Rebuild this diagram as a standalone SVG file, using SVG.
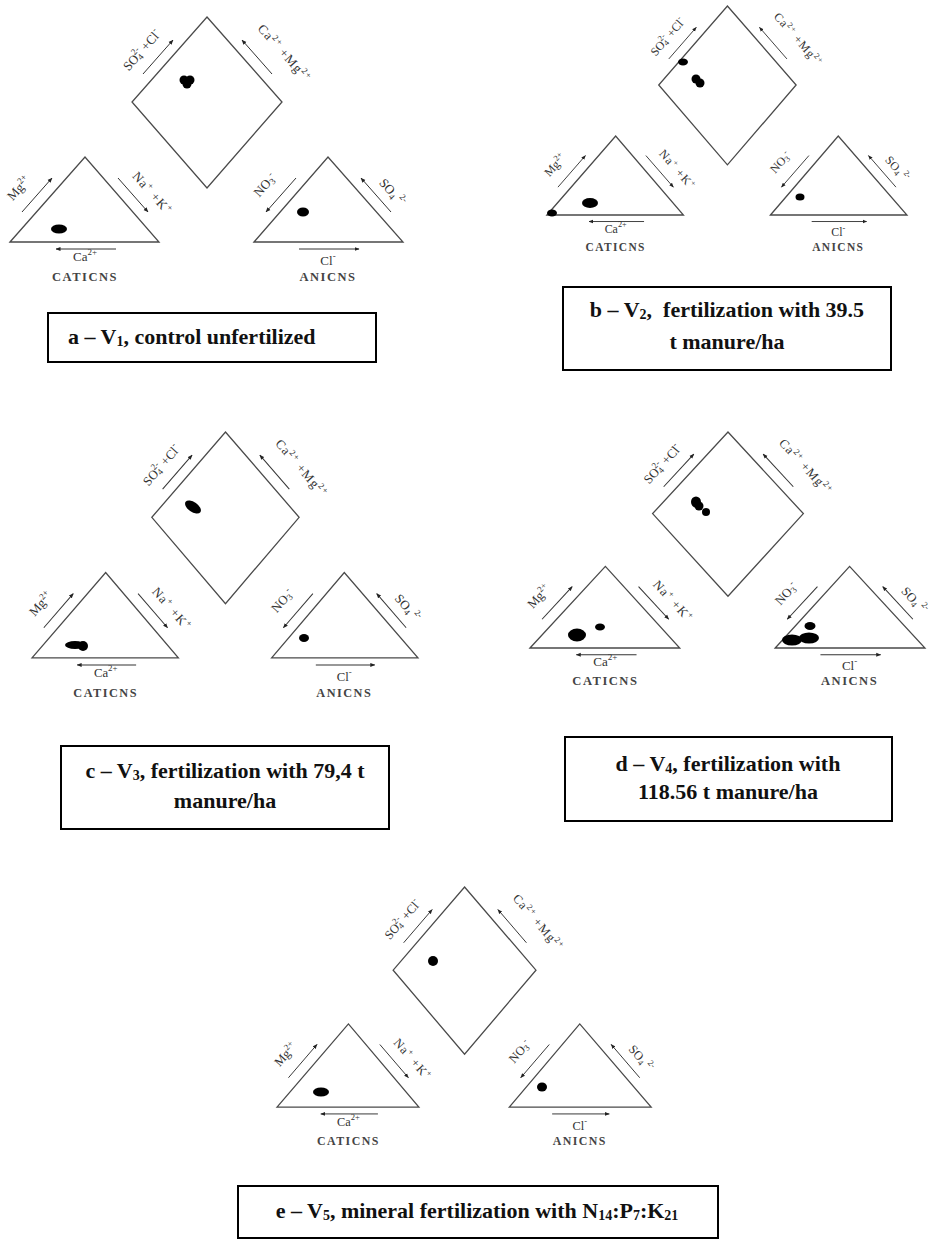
<svg xmlns="http://www.w3.org/2000/svg" width="931" height="1242" viewBox="0 0 931 1242">
<style>
.ln{fill:none;stroke:#4a4a4a;stroke-width:1.3;vector-effect:non-scaling-stroke}
.ar{stroke:#333;stroke-width:1;marker-end:url(#ah)}
.lb{font-family:"Liberation Serif",serif;font-size:13px;fill:#333}
.s{font-size:9px}
.nm{font-family:"Liberation Serif",serif;font-size:12.5px;font-weight:bold;fill:#444;letter-spacing:1.5px;text-anchor:middle}
.dot{fill:#000}
.box{fill:#fff;stroke:#000;stroke-width:2}
.cap{font-family:"Liberation Serif",serif;font-size:22px;font-weight:bold;fill:#111}
.sb{font-size:14px}
</style>
<defs>
<marker id="ah" viewBox="0 0 10 10" refX="9" refY="5" markerWidth="5" markerHeight="5" orient="auto">
<path d="M0,1 L10,5 L0,9 z" fill="#222"/>
</marker>
</defs>

<g id="panel-a">
<g id="panel-a-frame">
<polygon class="ln" points="207,17 282,102 207,188 132,102"/>
<polygon class="ln" points="10,242 85,157 159,242"/>
<polygon class="ln" points="254,242 328,157 403,242"/>
<line class="ar" x1="143" y1="74" x2="173" y2="40"/>
<line class="ar" x1="272" y1="74" x2="242" y2="40"/>
<line class="ar" x1="22" y1="212" x2="52" y2="178"/>
<line class="ar" x1="118" y1="178" x2="148" y2="212"/>
<line class="ar" x1="116" y1="249" x2="56" y2="249"/>
<line class="ar" x1="296" y1="178" x2="266" y2="212"/>
<line class="ar" x1="391" y1="212" x2="361" y2="178"/>
<line class="ar" x1="299" y1="249" x2="359" y2="249"/>
<text class="lb" text-anchor="middle" transform="translate(145,53) rotate(-48.6)">SO<tspan class="s" dy="2">4</tspan><tspan class="s" dx="-5" dy="-8">2-</tspan><tspan dy="6"> +Cl</tspan><tspan class="s" dy="-6">-</tspan></text>
<text class="lb" text-anchor="middle" letter-spacing="1" transform="translate(281,56) rotate(48.6)">Ca<tspan class="s" dy="-5">2+</tspan><tspan dy="5"> +Mg</tspan><tspan class="s" dy="-5">2+</tspan></text>
<text class="lb" text-anchor="middle" transform="translate(22,191) rotate(-48.6)">Mg<tspan class="s" dy="-5">2+</tspan></text>
<text class="lb" text-anchor="middle" letter-spacing="1" transform="translate(149,196) rotate(48.6)">Na<tspan class="s" dy="-5">+</tspan><tspan dy="5"> +K</tspan><tspan class="s" dy="-5">+</tspan></text>
<text class="lb" text-anchor="middle" transform="translate(268,188) rotate(-48.6)">NO<tspan class="s" dy="2">3</tspan><tspan class="s" dy="-7">-</tspan></text>
<text class="lb" text-anchor="middle" transform="translate(389,195) rotate(48.6)">SO<tspan class="s" dy="2">4</tspan><tspan class="s" dx="3" dy="-8">2-</tspan></text>
<text class="lb" text-anchor="middle" x="85" y="261">Ca<tspan class="s" dy="-6">2+</tspan></text>
<text class="nm" x="85" y="281">CATICNS</text>
<text class="lb" text-anchor="middle" x="328" y="265">Cl<tspan class="s" dy="-6">-</tspan></text>
<text class="nm" x="328" y="281">ANICNS</text>
</g>
<circle class="dot" cx="184" cy="80" r="4.5"/><circle class="dot" cx="190" cy="80" r="4.5"/><circle class="dot" cx="187" cy="84" r="4.5"/>
<ellipse class="dot" cx="59" cy="229" rx="8" ry="4.5"/>
<ellipse class="dot" cx="303" cy="212" rx="6" ry="4.5"/>
</g>

<g id="panel-b">
<g id="panel-b-frame" transform="translate(537.8,-9.8) scale(0.916,0.929)">
<polygon class="ln" points="207,17 282,102 207,188 132,102"/>
<polygon class="ln" points="10,242 85,157 159,242"/>
<polygon class="ln" points="254,242 328,157 403,242"/>
<line class="ar" x1="143" y1="74" x2="173" y2="40"/>
<line class="ar" x1="272" y1="74" x2="242" y2="40"/>
<line class="ar" x1="22" y1="212" x2="52" y2="178"/>
<line class="ar" x1="118" y1="178" x2="148" y2="212"/>
<line class="ar" x1="116" y1="249" x2="56" y2="249"/>
<line class="ar" x1="296" y1="178" x2="266" y2="212"/>
<line class="ar" x1="391" y1="212" x2="361" y2="178"/>
<line class="ar" x1="299" y1="249" x2="359" y2="249"/>
<text class="lb" text-anchor="middle" transform="translate(145,53) rotate(-48.6)">SO<tspan class="s" dy="2">4</tspan><tspan class="s" dx="-5" dy="-8">2-</tspan><tspan dy="6"> +Cl</tspan><tspan class="s" dy="-6">-</tspan></text>
<text class="lb" text-anchor="middle" letter-spacing="1" transform="translate(281,56) rotate(48.6)">Ca<tspan class="s" dy="-5">2+</tspan><tspan dy="5"> +Mg</tspan><tspan class="s" dy="-5">2+</tspan></text>
<text class="lb" text-anchor="middle" transform="translate(22,191) rotate(-48.6)">Mg<tspan class="s" dy="-5">2+</tspan></text>
<text class="lb" text-anchor="middle" letter-spacing="1" transform="translate(149,196) rotate(48.6)">Na<tspan class="s" dy="-5">+</tspan><tspan dy="5"> +K</tspan><tspan class="s" dy="-5">+</tspan></text>
<text class="lb" text-anchor="middle" transform="translate(268,188) rotate(-48.6)">NO<tspan class="s" dy="2">3</tspan><tspan class="s" dy="-7">-</tspan></text>
<text class="lb" text-anchor="middle" transform="translate(389,195) rotate(48.6)">SO<tspan class="s" dy="2">4</tspan><tspan class="s" dx="3" dy="-8">2-</tspan></text>
<text class="lb" text-anchor="middle" x="85" y="261">Ca<tspan class="s" dy="-6">2+</tspan></text>
<text class="nm" x="85" y="281">CATICNS</text>
<text class="lb" text-anchor="middle" x="328" y="265">Cl<tspan class="s" dy="-6">-</tspan></text>
<text class="nm" x="328" y="281">ANICNS</text>
</g>
<ellipse class="dot" cx="683" cy="62" rx="5" ry="3.5"/>
<circle class="dot" cx="696" cy="79" r="4.5"/><circle class="dot" cx="700" cy="83" r="4.5"/>
<ellipse class="dot" cx="590" cy="203" rx="8" ry="5"/>
<ellipse class="dot" cx="552" cy="213" rx="5" ry="3.5"/>
<ellipse class="dot" cx="800" cy="197" rx="4.5" ry="3.5"/>
</g>

<g id="panel-c">
<g id="panel-c-frame" transform="translate(22.2,414.9) scale(0.982,1.004)">
<polygon class="ln" points="207,17 282,102 207,188 132,102"/>
<polygon class="ln" points="10,242 85,157 159,242"/>
<polygon class="ln" points="254,242 328,157 403,242"/>
<line class="ar" x1="143" y1="74" x2="173" y2="40"/>
<line class="ar" x1="272" y1="74" x2="242" y2="40"/>
<line class="ar" x1="22" y1="212" x2="52" y2="178"/>
<line class="ar" x1="118" y1="178" x2="148" y2="212"/>
<line class="ar" x1="116" y1="249" x2="56" y2="249"/>
<line class="ar" x1="296" y1="178" x2="266" y2="212"/>
<line class="ar" x1="391" y1="212" x2="361" y2="178"/>
<line class="ar" x1="299" y1="249" x2="359" y2="249"/>
<text class="lb" text-anchor="middle" transform="translate(145,53) rotate(-48.6)">SO<tspan class="s" dy="2">4</tspan><tspan class="s" dx="-5" dy="-8">2-</tspan><tspan dy="6"> +Cl</tspan><tspan class="s" dy="-6">-</tspan></text>
<text class="lb" text-anchor="middle" letter-spacing="1" transform="translate(281,56) rotate(48.6)">Ca<tspan class="s" dy="-5">2+</tspan><tspan dy="5"> +Mg</tspan><tspan class="s" dy="-5">2+</tspan></text>
<text class="lb" text-anchor="middle" transform="translate(22,191) rotate(-48.6)">Mg<tspan class="s" dy="-5">2+</tspan></text>
<text class="lb" text-anchor="middle" letter-spacing="1" transform="translate(149,196) rotate(48.6)">Na<tspan class="s" dy="-5">+</tspan><tspan dy="5"> +K</tspan><tspan class="s" dy="-5">+</tspan></text>
<text class="lb" text-anchor="middle" transform="translate(268,188) rotate(-48.6)">NO<tspan class="s" dy="2">3</tspan><tspan class="s" dy="-7">-</tspan></text>
<text class="lb" text-anchor="middle" transform="translate(389,195) rotate(48.6)">SO<tspan class="s" dy="2">4</tspan><tspan class="s" dx="3" dy="-8">2-</tspan></text>
<text class="lb" text-anchor="middle" x="85" y="261">Ca<tspan class="s" dy="-6">2+</tspan></text>
<text class="nm" x="85" y="281">CATICNS</text>
<text class="lb" text-anchor="middle" x="328" y="265">Cl<tspan class="s" dy="-6">-</tspan></text>
<text class="nm" x="328" y="281">ANICNS</text>
</g>
<ellipse class="dot" cx="193" cy="507" rx="9" ry="5" transform="rotate(35 193 507)"/>
<ellipse class="dot" cx="75" cy="645" rx="10" ry="4"/><circle class="dot" cx="83" cy="646" r="5"/>
<ellipse class="dot" cx="304" cy="638" rx="5" ry="4"/>
</g>

<g id="panel-d">
<g id="panel-d-frame" transform="translate(519.95,415.7) scale(1.005,0.96)">
<polygon class="ln" points="207,17 282,102 207,188 132,102"/>
<polygon class="ln" points="10,242 85,157 159,242"/>
<polygon class="ln" points="254,242 328,157 403,242"/>
<line class="ar" x1="143" y1="74" x2="173" y2="40"/>
<line class="ar" x1="272" y1="74" x2="242" y2="40"/>
<line class="ar" x1="22" y1="212" x2="52" y2="178"/>
<line class="ar" x1="118" y1="178" x2="148" y2="212"/>
<line class="ar" x1="116" y1="249" x2="56" y2="249"/>
<line class="ar" x1="296" y1="178" x2="266" y2="212"/>
<line class="ar" x1="391" y1="212" x2="361" y2="178"/>
<line class="ar" x1="299" y1="249" x2="359" y2="249"/>
<text class="lb" text-anchor="middle" transform="translate(145,53) rotate(-48.6)">SO<tspan class="s" dy="2">4</tspan><tspan class="s" dx="-5" dy="-8">2-</tspan><tspan dy="6"> +Cl</tspan><tspan class="s" dy="-6">-</tspan></text>
<text class="lb" text-anchor="middle" letter-spacing="1" transform="translate(281,56) rotate(48.6)">Ca<tspan class="s" dy="-5">2+</tspan><tspan dy="5"> +Mg</tspan><tspan class="s" dy="-5">2+</tspan></text>
<text class="lb" text-anchor="middle" transform="translate(22,191) rotate(-48.6)">Mg<tspan class="s" dy="-5">2+</tspan></text>
<text class="lb" text-anchor="middle" letter-spacing="1" transform="translate(149,196) rotate(48.6)">Na<tspan class="s" dy="-5">+</tspan><tspan dy="5"> +K</tspan><tspan class="s" dy="-5">+</tspan></text>
<text class="lb" text-anchor="middle" transform="translate(268,188) rotate(-48.6)">NO<tspan class="s" dy="2">3</tspan><tspan class="s" dy="-7">-</tspan></text>
<text class="lb" text-anchor="middle" transform="translate(389,195) rotate(48.6)">SO<tspan class="s" dy="2">4</tspan><tspan class="s" dx="3" dy="-8">2-</tspan></text>
<text class="lb" text-anchor="middle" x="85" y="261">Ca<tspan class="s" dy="-6">2+</tspan></text>
<text class="nm" x="85" y="281">CATICNS</text>
<text class="lb" text-anchor="middle" x="328" y="265">Cl<tspan class="s" dy="-6">-</tspan></text>
<text class="nm" x="328" y="281">ANICNS</text>
</g>
<ellipse class="dot" cx="696" cy="502" rx="5" ry="5.5"/><circle class="dot" cx="699" cy="506" r="4.5"/>
<circle class="dot" cx="706" cy="512" r="4"/>
<ellipse class="dot" cx="577" cy="635" rx="9" ry="6.5"/>
<ellipse class="dot" cx="600" cy="627" rx="5" ry="3.5"/>
<ellipse class="dot" cx="792" cy="640" rx="10" ry="5.5"/>
<ellipse class="dot" cx="809" cy="638" rx="10" ry="5.5"/>
<ellipse class="dot" cx="810" cy="626" rx="5.5" ry="4"/>
</g>

<g id="panel-e">
<g id="panel-e-frame" transform="translate(267.5,870.4) scale(0.952,0.978)">
<polygon class="ln" points="207,17 282,102 207,188 132,102"/>
<polygon class="ln" points="10,242 85,157 159,242"/>
<polygon class="ln" points="254,242 328,157 403,242"/>
<line class="ar" x1="143" y1="74" x2="173" y2="40"/>
<line class="ar" x1="272" y1="74" x2="242" y2="40"/>
<line class="ar" x1="22" y1="212" x2="52" y2="178"/>
<line class="ar" x1="118" y1="178" x2="148" y2="212"/>
<line class="ar" x1="116" y1="249" x2="56" y2="249"/>
<line class="ar" x1="296" y1="178" x2="266" y2="212"/>
<line class="ar" x1="391" y1="212" x2="361" y2="178"/>
<line class="ar" x1="299" y1="249" x2="359" y2="249"/>
<text class="lb" text-anchor="middle" transform="translate(145,53) rotate(-48.6)">SO<tspan class="s" dy="2">4</tspan><tspan class="s" dx="-5" dy="-8">2-</tspan><tspan dy="6"> +Cl</tspan><tspan class="s" dy="-6">-</tspan></text>
<text class="lb" text-anchor="middle" letter-spacing="1" transform="translate(281,56) rotate(48.6)">Ca<tspan class="s" dy="-5">2+</tspan><tspan dy="5"> +Mg</tspan><tspan class="s" dy="-5">2+</tspan></text>
<text class="lb" text-anchor="middle" transform="translate(22,191) rotate(-48.6)">Mg<tspan class="s" dy="-5">2+</tspan></text>
<text class="lb" text-anchor="middle" letter-spacing="1" transform="translate(149,196) rotate(48.6)">Na<tspan class="s" dy="-5">+</tspan><tspan dy="5"> +K</tspan><tspan class="s" dy="-5">+</tspan></text>
<text class="lb" text-anchor="middle" transform="translate(268,188) rotate(-48.6)">NO<tspan class="s" dy="2">3</tspan><tspan class="s" dy="-7">-</tspan></text>
<text class="lb" text-anchor="middle" transform="translate(389,195) rotate(48.6)">SO<tspan class="s" dy="2">4</tspan><tspan class="s" dx="3" dy="-8">2-</tspan></text>
<text class="lb" text-anchor="middle" x="85" y="261">Ca<tspan class="s" dy="-6">2+</tspan></text>
<text class="nm" x="85" y="281">CATICNS</text>
<text class="lb" text-anchor="middle" x="328" y="265">Cl<tspan class="s" dy="-6">-</tspan></text>
<text class="nm" x="328" y="281">ANICNS</text>
</g>
<circle class="dot" cx="433" cy="961" r="5"/>
<ellipse class="dot" cx="321" cy="1092" rx="8" ry="4.5"/>
<ellipse class="dot" cx="542" cy="1087" rx="5" ry="4.5"/>
</g>

<g id="caption-a">
<rect class="box" x="48" y="313" width="328" height="49"/>
<text class="cap" x="68" y="344">a – V<tspan class="sb" dy="2">1</tspan><tspan dy="-2">, control unfertilized</tspan></text>
</g>
<g id="caption-b">
<rect class="box" x="563" y="287" width="328" height="83"/>
<text class="cap" x="727" y="317" text-anchor="middle" xml:space="preserve">b – V<tspan class="sb" dy="2">2</tspan><tspan dy="-2">,  fertilization with 39.5</tspan></text>
<text class="cap" x="727" y="349" text-anchor="middle">t manure/ha</text>
</g>
<g id="caption-c">
<rect class="box" x="61" y="746" width="328" height="83"/>
<text class="cap" x="225" y="778" text-anchor="middle">c – V<tspan class="sb" dy="2">3</tspan><tspan dy="-2">, fertilization with 79,4 t</tspan></text>
<text class="cap" x="225" y="808" text-anchor="middle">manure/ha</text>
</g>
<g id="caption-d">
<rect class="box" x="565" y="737" width="327" height="84"/>
<text class="cap" x="728" y="771" text-anchor="middle">d – V<tspan class="sb" dy="2">4</tspan><tspan dy="-2">, fertilization with</tspan></text>
<text class="cap" x="728" y="799" text-anchor="middle">118.56 t manure/ha</text>
</g>
<g id="caption-e">
<rect class="box" x="238" y="1186" width="480" height="52"/>
<text class="cap" x="477" y="1218" text-anchor="middle">e – V<tspan class="sb" dy="2">5</tspan><tspan dy="-2">, mineral fertilization with N</tspan><tspan class="sb" dy="2">14</tspan><tspan dy="-2">:P</tspan><tspan class="sb" dy="2">7</tspan><tspan dy="-2">:K</tspan><tspan class="sb" dy="2">21</tspan></text>
</g>
</svg>
